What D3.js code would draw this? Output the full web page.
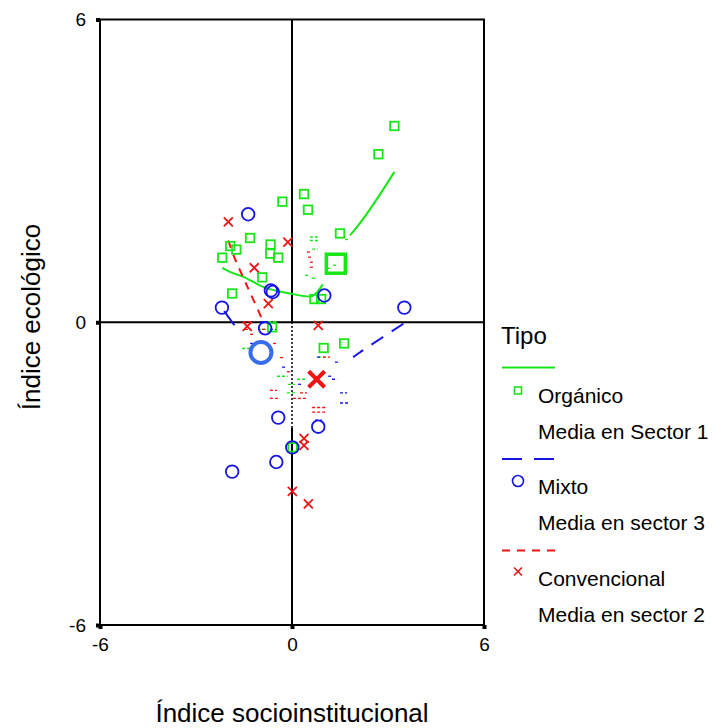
<!DOCTYPE html>
<html><head><meta charset="utf-8">
<script src="https://cdn.jsdelivr.net/npm/d3@7"></script>
<style>body{margin:0;background:#fff}svg{display:block;font-family:"Liberation Sans",Arial,sans-serif}</style>
</head><body><svg id="c" width="713" height="728"></svg>
<script>
// ---- data ----
const xTicks = [-6, 0, 6];
const yTicks = [-6, 0, 6];
const xLabel = "Índice socioinstitucional";
const yLabel = "Índice ecológico";
const legendTitle = "Tipo";
const seriesNames = ["Orgánico", "Mixto", "Convencional"];
const meanNames = ["Media en Sector 1", "Media en sector 3", "Media en sector 2"];
const organico = [[3.20,3.89],[2.70,3.33],[0.375,2.54],[-0.30,2.39],[0.50,2.23],[1.50,1.76],[-1.31,1.67],[-1.93,1.51],[-1.74,1.44],[-0.67,1.54],[-0.68,1.36],[-0.43,1.28],[-2.18,1.28],[-0.93,0.89],[-1.87,0.57],[0.70,0.46],[0.91,0.46],[0.99,-0.51],[1.63,-0.42],[-0.62,-0.10],[0.02,-2.48]];
const mixto = [[-1.37,2.14],[-0.66,0.63],[-0.60,0.60],[1.01,0.53],[-2.19,0.29],[3.51,0.29],[-0.84,-0.12],[-0.43,-1.89],[0.82,-2.07],[0.01,-2.48],[-0.49,-2.77],[-1.87,-2.96]];
const convencional = [[-1.99,1.99],[-0.13,1.59],[-1.18,1.08],[-0.74,0.37],[0.82,-0.06],[-1.40,-0.08],[0.375,-2.30],[0.375,-2.44],[0.01,-3.35],[0.51,-3.60]];
const meanOrganico = [1.37, 1.16];
const meanMixto = [-0.97, -0.60];
const meanConvencional = [0.77, -1.13];
// visible parts of fitted lines
const fitOrganicoA = [[-2.18,1.08],[-1.94,1.00],[-1.52,0.90],[-0.90,0.70],[-0.06,0.57],[0.56,0.51],[0.79,0.60],[0.96,0.75]];
const fitOrganicoB = [[1.81,1.72],[2.07,1.92],[3.20,2.98]];
const fitMixtoA = [[-2.12,0.22],[-1.80,-0.06]];
const fitMixtoB = [[3.48,-0.03],[2.23,-0.55],[2.07,-0.62],[1.91,-0.69]];
const fitConvencional = [[-1.99,1.62],[-1.83,1.33],[-1.37,0.67],[-0.95,0.07],[-0.92,-0.03]];
// small residual fragments of mean-in-sector lines: [x0, x1, y]
const fragOrganico = [[0.56,0.81,1.69],[0.56,0.81,1.62],[1.66,1.78,1.64],[0.41,0.53,0.93],[0.63,0.75,0.87],[1.09,1.19,1.07],[1.28,1.41,1.13],[-0.75,-0.47,0.01],[-1.06,-0.78,-0.14],[-1.56,-1.31,-0.52],[-0.47,-0.13,-1.07],[0.16,0.41,-1.13],[-0.13,0.09,-1.23],[-0.16,0.16,-1.40],[0.81,1.03,-0.69],[0.63,0.81,1.45]];
const fragConvencional = [[0.47,0.56,1.39],[0.50,0.66,1.29],[0.56,0.66,1.19],[0.56,0.66,1.09],[-1.53,-1.25,0.01],[-1.47,-1.31,-0.14],[-0.94,-0.84,-0.14],[-1.31,-1.22,-0.24],[-0.59,-0.47,-0.42],[-0.375,-0.28,-0.70],[-0.16,-0.06,-0.98],[-0.69,-0.47,-1.35],[-0.69,-0.375,-1.51],[0.03,0.47,-1.51],[0.63,1.09,-1.69],[0.63,1.09,-1.78],[0.97,1.19,-0.69],[0.25,0.47,-1.40]];
const fragMixto = [[-1.0,-0.78,0.01],[-0.69,-0.47,-0.14],[-1.31,-1.22,-0.42],[-0.31,-0.16,-0.89],[1.13,1.28,-1.07],[1.25,1.41,-1.13],[1.5,1.72,-1.40],[1.5,1.75,-1.60],[0.72,0.94,-1.94],[0.78,0.94,-0.69],[1.34,1.5,-0.79],[0.19,0.34,-1.23]];
const dottedZeroSpan = [0, -2.08];

// ---- colours ----
const cG = "#19e619", cB = "#1414e6", cR = "#f01414", cBmean = "#3a6ee8";

const svg = d3.select("#c");
const x = d3.scaleLinear().domain([-6, 6]).range([100, 484]);
const y = d3.scaleLinear().domain([-6, 6]).range([625, 19.5]);

// zero reference lines
svg.append("line").attr("x1", x(-6)).attr("x2", x(6)).attr("y1", y(0)).attr("y2", y(0)).attr("stroke", "#000").attr("stroke-width", 2);
svg.append("line").attr("x1", x(0)).attr("x2", x(0)).attr("y1", y(6)).attr("y2", y(dottedZeroSpan[0])).attr("stroke", "#000").attr("stroke-width", 2);
svg.append("line").attr("x1", x(0)).attr("x2", x(0)).attr("y1", y(dottedZeroSpan[0])).attr("y2", y(dottedZeroSpan[1])).attr("stroke", "#000").attr("stroke-width", 2).attr("stroke-dasharray", "1.5,2.5");
svg.append("line").attr("x1", x(0)).attr("x2", x(0)).attr("y1", y(dottedZeroSpan[1])).attr("y2", y(-6)).attr("stroke", "#000").attr("stroke-width", 2);

// fragments
function frags(arr, col) {
  svg.append("g").selectAll("line").data(arr).join("line")
    .attr("x1", d => x(d[0])).attr("x2", d => x(d[1]))
    .attr("y1", d => y(d[2])).attr("y2", d => y(d[2]))
    .attr("stroke", col).attr("stroke-width", 1.3).attr("stroke-dasharray", "3,2");
}
frags(fragOrganico, cG); frags(fragConvencional, cR); frags(fragMixto, cB);

// fitted lines
const line = d3.line().x(d => x(d[0])).y(d => y(d[1])).curve(d3.curveMonotoneX);
const lineN = d3.line().x(d => x(d[0])).y(d => y(d[1])).curve(d3.curveCatmullRom);
svg.append("path").attr("d", line(fitOrganicoA)).attr("fill", "none").attr("stroke", cG).attr("stroke-width", 2);
svg.append("path").attr("d", line(fitOrganicoB)).attr("fill", "none").attr("stroke", cG).attr("stroke-width", 2);
svg.append("path").attr("d", lineN(fitMixtoA)).attr("fill", "none").attr("stroke", cB).attr("stroke-width", 2);
svg.append("path").attr("d", lineN(fitMixtoB)).attr("fill", "none").attr("stroke", cB).attr("stroke-width", 2).attr("stroke-dasharray", "14,10");
svg.append("path").attr("d", lineN(fitConvencional)).attr("fill", "none").attr("stroke", cR).attr("stroke-width", 2).attr("stroke-dasharray", "8,7");

// markers
function squares(g, data, s, col, sw) {
  g.selectAll(null).data(data).join("rect")
    .attr("x", d => x(d[0]) - s / 2).attr("y", d => y(d[1]) - s / 2)
    .attr("width", s).attr("height", s).attr("fill", "none").attr("stroke", col).attr("stroke-width", sw);
}
function circles(g, data, r, col, sw) {
  g.selectAll(null).data(data).join("circle")
    .attr("cx", d => x(d[0])).attr("cy", d => y(d[1])).attr("r", r)
    .attr("fill", "none").attr("stroke", col).attr("stroke-width", sw);
}
function crosses(g, data, h, col, sw) {
  g.selectAll(null).data(data).join("path")
    .attr("d", d => { const cx = x(d[0]), cy = y(d[1]); return `M${cx-h},${cy-h}L${cx+h},${cy+h}M${cx-h},${cy+h}L${cx+h},${cy-h}`; })
    .attr("fill", "none").attr("stroke", col).attr("stroke-width", sw);
}
const gm = svg.append("g");
squares(gm, organico, 8.5, cG, 1.8);
crosses(gm, convencional, 4.5, cR, 1.8);
circles(gm, mixto, 6.3, cB, 1.8);
squares(gm, [meanOrganico], 19, cG, 3.5);
circles(gm, [meanMixto], 10.5, cBmean, 4);
crosses(gm, [meanConvencional], 8, cR, 4);

// frame
svg.append("rect").attr("x", x(-6)).attr("y", y(6)).attr("width", x(6) - x(-6)).attr("height", y(-6) - y(6))
  .attr("fill", "none").attr("stroke", "#000").attr("stroke-width", 2);

// axes
const fmt = d => String(d);
const xAxis = d3.axisBottom(x).tickValues(xTicks).tickSize(4).tickPadding(8).tickFormat(fmt);
const yAxis = d3.axisLeft(y).tickValues(yTicks).tickSize(4).tickPadding(8).tickFormat(fmt);
const gx = svg.append("g").attr("transform", `translate(0,${y(-6)})`).call(xAxis);
const gy = svg.append("g").attr("transform", `translate(${x(-6)},0)`).call(yAxis);
[gx, gy].forEach(g => {
  g.select(".domain").remove();
  g.selectAll(".tick line").attr("stroke", "#000").attr("stroke-width", 4);
  g.selectAll(".tick text").attr("font-size", 19).attr("fill", "#000").attr("font-family", "Liberation Sans, Arial, sans-serif");
});
gx.selectAll(".tick text").attr("dy", "0.71em").attr("y", 13);
gy.selectAll(".tick text").attr("x", -14);

// axis titles
svg.append("text").attr("x", 292).attr("y", 722).attr("text-anchor", "middle").attr("font-size", 26).text(xLabel);
svg.append("text").attr("transform", `translate(40,317) rotate(-90)`).attr("text-anchor", "middle").attr("font-size", 26).text(yLabel);

// legend
const lg = svg.append("g").attr("font-size", 21);
lg.append("text").attr("x", 501).attr("y", 344).attr("font-size", 24).text(legendTitle);
const legY = [367.5, 459, 550.5];
const dashes = [null, "20,12", "8,7"];
const cols = [cG, cB, cR];
for (let i = 0; i < 3; i++) {
  const ly = legY[i];
  lg.append("line").attr("x1", 502).attr("x2", 555).attr("y1", ly).attr("y2", ly)
    .attr("stroke", cols[i]).attr("stroke-width", 2).attr("stroke-dasharray", dashes[i]);
  const my = ly + 23;
  if (i === 0) lg.append("rect").attr("x", 514.5).attr("y", my - 3.5).attr("width", 7).attr("height", 7).attr("fill", "none").attr("stroke", cG).attr("stroke-width", 1.6);
  if (i === 1) lg.append("circle").attr("cx", 518).attr("cy", my - 1).attr("r", 5.5).attr("fill", "none").attr("stroke", cB).attr("stroke-width", 1.6);
  if (i === 2) lg.append("path").attr("d", `M${514},${my-6}L${522},${my+2}M${514},${my+2}L${522},${my-6}`).attr("stroke", cR).attr("stroke-width", 1.6);
  lg.append("text").attr("x", 538).attr("y", ly + 35).text(seriesNames[i]);
  lg.append("text").attr("x", 538).attr("y", ly + 71).text(meanNames[i]);
}
</script></body></html>
